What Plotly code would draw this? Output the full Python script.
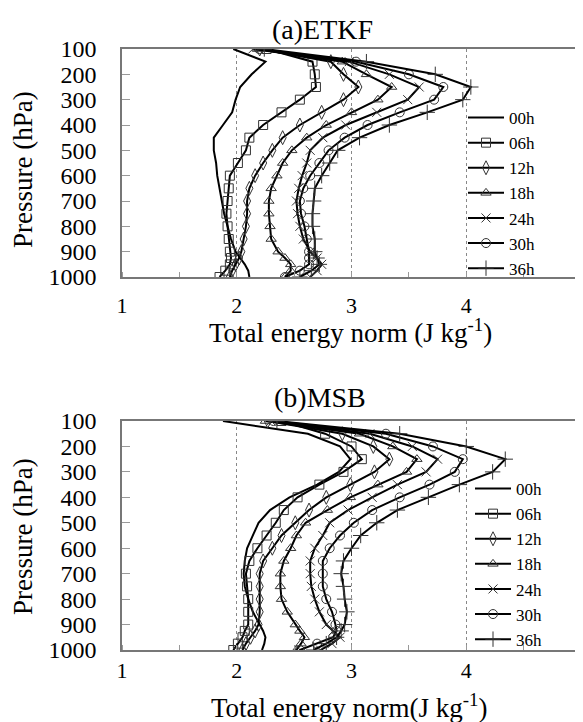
import plotly.graph_objects as go

levels = [100, 150, 200, 250, 300, 350, 400, 450, 500, 550, 600, 650, 700, 750, 800, 850, 900, 925, 950, 975, 1000]
hours = ["00h", "06h", "12h", "18h", "24h", "30h", "36h"]

# (a) ETKF
etkf_00h = [1.97, 2.25, 2.13, 2.03, 1.99, 1.96, 1.88, 1.80, 1.80, 1.82, 1.83, 1.85, 1.87, 1.89, 1.92, 1.95, 1.99, 2.03, 2.07, 2.10, 2.11]
etkf_06h = [2.26, 2.66, 2.68, 2.69, 2.55, 2.39, 2.23, 2.11, 2.08, 2.01, 1.94, 1.93, 1.92, 1.91, 1.92, 1.93, 1.94, 1.95, 1.94, 1.90, 1.85]
etkf_12h = [2.20, 2.82, 2.93, 3.06, 2.93, 2.74, 2.55, 2.40, 2.31, 2.23, 2.16, 2.11, 2.09, 2.09, 2.08, 2.06, 2.04, 2.02, 1.99, 1.96, 1.94]
etkf_18h = [2.18, 2.92, 3.13, 3.35, 3.23, 3.00, 2.78, 2.61, 2.48, 2.40, 2.35, 2.30, 2.28, 2.28, 2.29, 2.30, 2.36, 2.42, 2.47, 2.47, 2.42]
etkf_24h = [2.14, 2.98, 3.33, 3.59, 3.49, 3.22, 2.95, 2.75, 2.64, 2.61, 2.57, 2.54, 2.52, 2.53, 2.55, 2.58, 2.64, 2.70, 2.74, 2.70, 2.64]
etkf_30h = [2.20, 3.04, 3.50, 3.80, 3.72, 3.42, 3.14, 2.94, 2.80, 2.72, 2.64, 2.58, 2.55, 2.56, 2.59, 2.61, 2.63, 2.63, 2.63, 2.55, 2.42]
etkf_36h = [2.24, 3.13, 3.73, 4.04, 3.97, 3.66, 3.33, 3.07, 2.88, 2.81, 2.74, 2.68, 2.67, 2.66, 2.66, 2.68, 2.68, 2.70, 2.72, 2.65, 2.55]

# (b) MSB
msb_00h = [1.88, 2.62, 2.90, 2.99, 2.89, 2.70, 2.46, 2.29, 2.19, 2.14, 2.09, 2.07, 2.06, 2.07, 2.10, 2.14, 2.20, 2.23, 2.25, 2.24, 2.22]
msb_06h = [2.39, 2.77, 3.00, 3.09, 2.93, 2.72, 2.53, 2.41, 2.34, 2.26, 2.18, 2.11, 2.08, 2.09, 2.10, 2.10, 2.10, 2.07, 2.05, 2.01, 1.97]
msb_12h = [2.27, 2.92, 3.19, 3.33, 3.20, 2.99, 2.78, 2.63, 2.51, 2.39, 2.31, 2.23, 2.20, 2.20, 2.20, 2.20, 2.19, 2.16, 2.12, 2.08, 2.05]
msb_18h = [2.25, 3.07, 3.36, 3.57, 3.48, 3.23, 2.99, 2.79, 2.60, 2.52, 2.47, 2.41, 2.38, 2.38, 2.39, 2.44, 2.51, 2.55, 2.59, 2.56, 2.52]
msb_24h = [2.30, 3.16, 3.53, 3.75, 3.65, 3.40, 3.18, 2.97, 2.81, 2.75, 2.68, 2.64, 2.64, 2.65, 2.68, 2.72, 2.78, 2.84, 2.90, 2.83, 2.73]
msb_30h = [2.32, 3.30, 3.71, 3.97, 3.90, 3.68, 3.42, 3.18, 3.02, 2.90, 2.81, 2.75, 2.75, 2.75, 2.78, 2.83, 2.86, 2.87, 2.84, 2.70, 2.55]
msb_36h = [2.35, 3.42, 4.00, 4.34, 4.23, 3.94, 3.67, 3.40, 3.22, 3.08, 3.00, 2.93, 2.91, 2.93, 2.94, 2.96, 2.94, 2.91, 2.87, 2.78, 2.67]

etkf = [etkf_00h, etkf_06h, etkf_12h, etkf_18h, etkf_24h, etkf_30h, etkf_36h]
msb = [msb_00h, msb_06h, msb_12h, msb_18h, msb_24h, msb_30h, msb_36h]

x_ticks = [1, 2, 3, 4, 5]
y_ticks = [100, 200, 300, 400, 500, 600, 700, 800, 900, 1000]

symbols = [None, "square-open", "diamond-tall-open", "triangle-up-open", "x-thin-open", "circle-open", "cross-thin-open"]
sizes = [0, 9, 10, 9, 9, 9, 11]

# page has an 8px body margin; figure is sized to fit the 583x722 window
OFF = 8
W, H = 583 - OFF, 722 - OFF
FONT = '"Liberation Serif", "Times New Roman", serif'

fig = go.Figure()

def add_panel(data, xa, ya, leg):
    for i, (h, vals) in enumerate(zip(hours, data)):
        if symbols[i] is None:
            mode = "lines"
            marker = None
        else:
            mode = "lines+markers"
            marker = dict(symbol=symbols[i], size=sizes[i], color="#333333",
                          line=dict(color="#333333", width=1))
        fig.add_trace(go.Scatter(
            x=vals, y=levels, mode=mode, name=h, marker=marker,
            line=dict(color="black", width=2),
            xaxis=xa, yaxis=ya, legend=leg, showlegend=True,
        ))

add_panel(etkf, "x", "y", "legend")
add_panel(msb, "x2", "y2", "legend2")

def px_y(py):
    return 1 - (py - OFF) / H

def px_x(px):
    return (px - OFF) / W

top_dom = [px_y(277), px_y(49)]
bot_dom = [px_y(650), px_y(421)]

xcommon = dict(range=[1, 5], tickvals=x_ticks, ticks="", showgrid=True,
               gridcolor="#888888", griddash="dot", gridwidth=1,
               showline=True, linecolor="#777777", linewidth=1.5, mirror=True,
               zeroline=False,
               minor=dict(dtick=0.5, tick0=1, ticks="inside", ticklen=5,
                          tickcolor="#999999", showgrid=False),
               tickfont=dict(family=FONT, size=22, color="black"),
               domain=[px_x(122), px_x(581)])
ycommon = dict(range=[1000, 100], tickvals=y_ticks, ticks="inside", ticklen=8,
               tickcolor="#999999", showgrid=False,
               showline=True, linecolor="#777777", linewidth=1.5, mirror=True,
               zeroline=False,
               tickfont=dict(family=FONT, size=24, color="black"),
               ticklabelstandoff=19)

legfont = dict(family=FONT, size=17, color="black")

fig.update_layout(
    width=W, height=H,
    margin=dict(l=0, r=0, t=0, b=0, autoexpand=False),
    paper_bgcolor="white", plot_bgcolor="white",
    font=dict(family=FONT, color="black"),
    xaxis=dict(**xcommon, anchor="y", ticklabelstandoff=8),
    yaxis=dict(**ycommon, anchor="x", domain=top_dom),
    xaxis2=dict(**xcommon, anchor="y2", ticklabelstandoff=0),
    yaxis2=dict(**ycommon, anchor="x2", domain=bot_dom),
    legend=dict(x=px_x(463), y=px_y(100), xanchor="left", yanchor="top",
                bgcolor="rgba(0,0,0,0)", itemwidth=36, font=legfont, tracegroupgap=0),
    legend2=dict(x=px_x(470), y=px_y(471), xanchor="left", yanchor="top",
                 bgcolor="rgba(0,0,0,0)", itemwidth=36, font=legfont, tracegroupgap=0),
    showlegend=True,
)

annotations = [
    dict(text="(a)ETKF", x=px_x(322), y=px_y(29), xref="paper", yref="paper",
         showarrow=False, font=dict(family=FONT, size=28), xanchor="center", yanchor="middle"),
    dict(text="(b)MSB", x=px_x(320), y=px_y(398), xref="paper", yref="paper",
         showarrow=False, font=dict(family=FONT, size=28), xanchor="center", yanchor="middle"),
    dict(text="Total energy norm (J kg<sup>-1</sup>)", x=px_x(350), y=px_y(331), xref="paper", yref="paper",
         showarrow=False, font=dict(family=FONT, size=27), xanchor="center", yanchor="middle"),
    dict(text="Total energy norm(J kg<sup>-1</sup>)", x=px_x(349), y=px_y(706), xref="paper", yref="paper",
         showarrow=False, font=dict(family=FONT, size=27), xanchor="center", yanchor="middle"),
    dict(text="Pressure (hPa)", x=px_x(23), y=px_y(170), xref="paper", yref="paper",
         showarrow=False, font=dict(family=FONT, size=27), textangle=-90,
         xanchor="center", yanchor="middle"),
    dict(text="Pressure (hPa)", x=px_x(23), y=px_y(537), xref="paper", yref="paper",
         showarrow=False, font=dict(family=FONT, size=27), textangle=-90,
         xanchor="center", yanchor="middle"),
]
fig.update_layout(annotations=annotations)

fig.write_html("out.html")
